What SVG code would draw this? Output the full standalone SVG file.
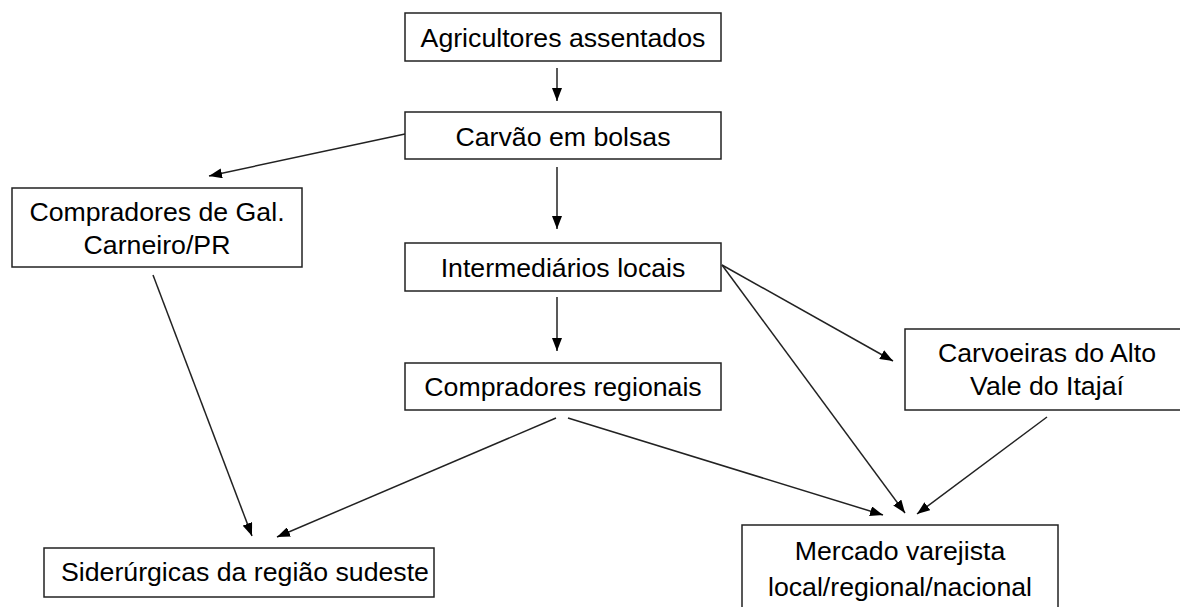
<svg xmlns="http://www.w3.org/2000/svg" width="1180" height="607" viewBox="0 0 1180 607">
<defs>
<style>
.box{fill:#fff;stroke:#222;stroke-width:1.5}
.t{font-family:"Liberation Sans",Arial,sans-serif;font-size:26.7px;fill:#000;text-anchor:middle}
.c{stroke:#222;stroke-width:1.5;fill:none;marker-end:url(#ah)}
</style>
<marker id="ah" markerUnits="userSpaceOnUse" markerWidth="13" markerHeight="10" refX="13" refY="5" orient="auto">
<path d="M0,0 L13,5 L0,10 z" fill="#000"/>
</marker>
</defs>
<rect width="1180" height="607" fill="#fff"/>
<g id="connectors">
<line class="c" x1="557" y1="68" x2="557" y2="101"/>
<line class="c" x1="557" y1="167" x2="557" y2="229"/>
<line class="c" x1="557" y1="297" x2="557" y2="351"/>
<line class="c" x1="405" y1="134" x2="209" y2="176"/>
<line class="c" x1="153" y1="275" x2="252" y2="536"/>
<line class="c" x1="556" y1="418" x2="277" y2="537"/>
<line class="c" x1="568" y1="418" x2="883" y2="515"/>
<line class="c" x1="722" y1="265" x2="893" y2="361"/>
<line class="c" x1="722" y1="265" x2="905" y2="513"/>
<line class="c" x1="1047" y1="417" x2="917" y2="514"/>
</g>
<g id="n1"><rect class="box" x="405" y="13" width="316" height="48"/><text class="t" x="563" y="47">Agricultores assentados</text></g>
<g id="n2"><rect class="box" x="405" y="112" width="316" height="47"/><text class="t" x="563" y="146">Carvão em bolsas</text></g>
<g id="n3"><rect class="box" x="12" y="188" width="290" height="79"/><text class="t" x="157" y="221">Compradores de Gal.</text><text class="t" x="157" y="254">Carneiro/PR</text></g>
<g id="n4"><rect class="box" x="405" y="243" width="316" height="48"/><text class="t" x="563" y="277">Intermediários locais</text></g>
<g id="n5"><rect class="box" x="405" y="363" width="316" height="47"/><text class="t" x="563" y="396">Compradores regionais</text></g>
<g id="n6"><rect class="box" x="905" y="329" width="290" height="81"/><text class="t" x="1047" y="362">Carvoeiras do Alto</text><text class="t" x="1047" y="395">Vale do Itajaí</text></g>
<g id="n7"><rect class="box" x="44" y="548" width="390" height="49"/><text class="t" x="61" y="581" style="text-anchor:start">Siderúrgicas da região sudeste</text></g>
<g id="n8"><rect class="box" x="742" y="525" width="316" height="100"/><text class="t" x="900" y="560">Mercado varejista</text><text class="t" x="900" y="596">local/regional/nacional</text></g>
</svg>
